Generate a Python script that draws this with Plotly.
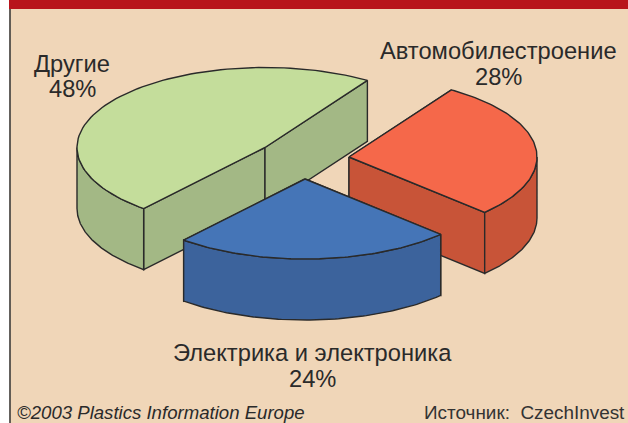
import numpy as np
import plotly.graph_objects as go

# Data, clockwise from the start angle
categories = ["Автомобилестроение", "Электрика и электроника", "Другие"]
shares = [28, 24, 48]

# Style and geometry
top_colors = ["#f5684a", "#4575b7", "#c4dd9b"]
side_colors = ["#c85438", "#3c639c", "#a3b885"]
centers = [(349, 157), (305, 179), (265, 147.5)]
START_ANGLE = 57.0
RX, RY, DEPTH = 188.0, 80.0, 61.0
LINE = dict(color="#2a2a2a", width=1.4)
W, H = 628, 423
BG = "#f0d6b8"

def arc(c, a0, a1, dz=0.0):
    t = np.radians(np.linspace(a0, a1, 90))
    return c[0] + RX * np.cos(t), c[1] - RY * np.sin(t) + dz

def poly(fig, x, y, color):
    fig.add_trace(go.Scatter(
        x=np.r_[x, x[0]], y=np.r_[y, y[0]], mode="lines", fill="toself",
        fillcolor=color, line=LINE, hoverinfo="skip", showlegend=False))

def radial_wall(fig, c, angle, color):
    ex, ey = arc(c, angle, angle)
    ex, ey = ex[0], ey[0]
    poly(fig, np.array([c[0], ex, ex, c[0]]),
         np.array([c[1], ey, ey + DEPTH, c[1] + DEPTH]), color)

# Slice angles follow from the values
spans = [s / sum(shares) * 360 for s in shares]
ends = START_ANGLE - np.cumsum(spans)
starts = np.r_[START_ANGLE, ends[:-1]]

fig = go.Figure()
for i in [2, 0, 1]:  # painter's order: back to front
    c, a0, a1 = centers[i], starts[i], ends[i]
    radial_wall(fig, c, a0, side_colors[i])
    radial_wall(fig, c, a1, side_colors[i])
    # visible part of the outer wall: lower half of the ellipse
    for lo, hi in [(-180, 0), (-540, -360)]:
        f0, f1 = min(a0, hi), max(a1, lo)
        if f0 > f1:
            x0, y0 = arc(c, f0, f1)
            x1, y1 = arc(c, f1, f0, DEPTH)
            poly(fig, np.r_[x0, x1], np.r_[y0, y1], side_colors[i])
    ax, ay = arc(c, a0, a1)
    poly(fig, np.r_[c[0], ax], np.r_[c[1], ay], top_colors[i])

# Labels
FONT = "Liberation Sans"
TXT = "#2a2a2a"
label_pos = [(498, 51, 77), (312, 353, 379), (72, 64, 89)]
for (x, y1, y2), name, share in zip(label_pos, categories, shares):
    for y, t in [(y1, name), (y2, f"{share}%")]:
        fig.add_annotation(x=x, y=y, text=t, showarrow=False, xanchor="center", yanchor="middle",
                           font=dict(family=FONT, size=23.7, color=TXT))
fig.add_annotation(x=15, y=412, text="<i>©2003 Plastics Information Europe</i>", showarrow=False,
                   xanchor="left", yanchor="middle", font=dict(family=FONT, size=18.6, color=TXT))
fig.add_annotation(x=627, y=412, text="Источник:  CzechInvest", showarrow=False,
                   xanchor="right", yanchor="middle", font=dict(family=FONT, size=18.9, color="#333333"))

shapes = [
    dict(type="rect", x0=9.5, x1=W, y0=0, y1=H, fillcolor=BG, line_width=0, layer="below"),
    dict(type="rect", x0=9, x1=W, y0=0, y1=9, fillcolor="#b8141b", line_width=0, layer="below"),
    dict(type="line", x0=10, x1=10, y0=9, y1=H, line=dict(color="#333333", width=1.5), layer="below"),
]
fig.update_layout(
    width=W, height=H, margin=dict(l=0, r=0, t=0, b=0),
    paper_bgcolor="white", plot_bgcolor="white", shapes=shapes, showlegend=False,
    xaxis=dict(range=[0, W], visible=False, fixedrange=True),
    yaxis=dict(range=[H, 0], visible=False, fixedrange=True),
)
fig.write_html("out.html", config=dict(displayModeBar=False),
               post_script="document.body.style.margin='0';document.body.style.overflow='hidden';")
